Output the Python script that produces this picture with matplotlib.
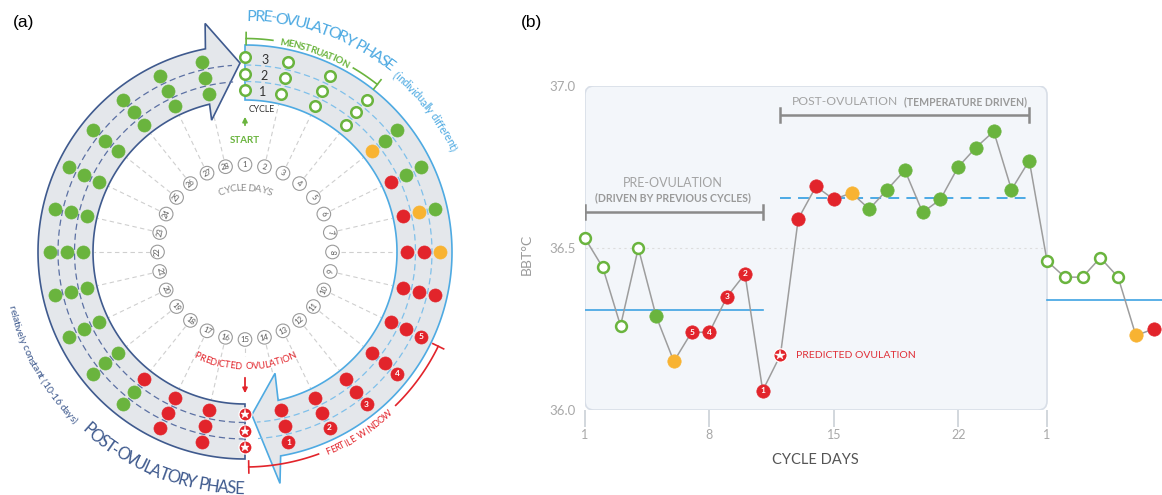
import numpy as np
import matplotlib
matplotlib.use('Agg')
import matplotlib.pyplot as plt
from matplotlib import font_manager
from matplotlib.patches import Polygon, Circle, FancyBboxPatch

plt.rcParams['font.family'] = ['Lato', 'DejaVu Sans']

# ---------------- data ----------------
# panel (a): marker kind for cycle days 1..28, one list per cycle
# o = open (menstruation), g = green, y = yellow, r = red, s = predicted ovulation, digit = numbered fertile day
cycle1 = ['o'] * 4 + ['y'] + ['r'] * 9 + ['s'] + ['r'] * 3 + ['g'] * 10
cycle2 = ['o'] * 4 + ['g', 'g', 'y'] + ['r'] * 7 + ['s'] + ['r'] * 2 + ['g'] * 11
cycle3 = ['o'] * 4 + ['g', 'g', 'g', 'y', 'r', '5', '4', '3', '2', '1', 's', 'r', 'r'] + ['g'] * 11
n_days = 28

# panel (b): basal body temperature
bbt_days = list(range(1, 27))
bbt = [36.53, 36.44, 36.26, 36.50, 36.29, 36.15, 36.24, 36.24, 36.35, 36.42, 36.06, 36.17, 36.59,
       36.69, 36.65, 36.67, 36.62, 36.68, 36.74, 36.61, 36.65, 36.75, 36.81, 36.86, 36.68, 36.77]
bbt_kind = ['o', 'o', 'o', 'o', 'g', 'y', '5', '4', '3', '2', '1', 's', 'r', 'r', 'r', 'y'] + ['g'] * 10
next_days = list(range(27, 34))
next_bbt = [36.46, 36.41, 36.41, 36.47, 36.41, 36.23, 36.25]
next_kind = ['o'] * 5 + ['y', 'r']

pre_level = 36.31      # days 1-11
post_level = 36.655    # days 12-26
next_level = 36.34     # next cycle
xtick_pos = [1, 8, 15, 22, 27]
xtick_lab = ['1', '8', '15', '22', '1']
ytick_pos = [36.0, 36.5, 37.0]

GREEN = '#6ab43e'
RED = '#e2242b'
YELLOW = '#f8b332'
NAVY = '#3f5a8e'
LBLUE = '#4eaae2'


def put_marker(ax, x, y, kind, ms=9.4, z=6):
    kw = dict(zorder=z, clip_on=False, ls='none', marker='o')
    if kind == 'o':
        ax.plot(x, y, ms=ms - 1.8, mfc='white', mec=GREEN, mew=1.8, **kw)
    elif kind == 'g':
        ax.plot(x, y, ms=ms, mfc=GREEN, mec=GREEN, mew=0.5, **kw)
    elif kind == 'y':
        ax.plot(x, y, ms=ms, mfc=YELLOW, mec=YELLOW, mew=0.5, **kw)
    elif kind == 's':
        ax.plot(x, y, ms=ms, mfc=RED, mec='white', mew=0.9, **kw)
        ax.plot(x, y, marker='*', ms=ms * 0.72, mfc='white', mec='white', mew=0.3,
                ls='none', zorder=z + 1, clip_on=False)
    else:
        ax.plot(x, y, ms=ms, mfc=RED, mec=RED, mew=0.5, **kw)
        if kind.isdigit():
            ax.text(x, y, kind, color='white', fontsize=6, fontweight='bold',
                    ha='center', va='center', zorder=z + 1, clip_on=False)


fig = plt.figure(figsize=(11.62, 4.95), dpi=100)

# ================= panel (a) : cycle wheel, 1 unit = 1 pixel =================
axa = fig.add_axes([0, 0, 490 / 1162, 1])
axa.set_xlim(0, 490)
axa.set_ylim(495, 0)
axa.axis('off')

CX, CY = 245.0, 252.0
R_DAY = 87.5
R_ROWS = [162.0, 178.5, 195.0]
R_IN, R_OUT = 152.0, 207.0


def polar(r, th):
    t = np.radians(th)
    return CX + r * np.sin(t), CY - r * np.cos(t)


def band(th0, head):
    # head = (base_in, tip, base_out), each (r, theta)
    (ri, ti), tip, (ro, to) = head
    th_out = ti + (R_OUT - ri) / (ro - ri) * (to - ti)
    th_in = ti + (R_IN - ri) / (ro - ri) * (to - ti)
    t = np.linspace(th0, th_out, 150)
    pts = list(zip(*polar(R_OUT, t)))
    pts += [polar(ro, to), polar(*tip), polar(ri, ti)]
    t = np.linspace(th_in, th0, 150)
    pts += list(zip(*polar(R_IN, t)))
    return pts


def arc_line(ax, r, t1, t2, **kw):
    t = np.linspace(t1, t2, 80)
    x, y = polar(r, t)
    ax.plot(x, y, **kw)


def advances(s, weight):
    fp = font_manager.FontProperties(family='Lato', weight=weight)
    font = font_manager.get_font(font_manager.findfont(fp))
    font.set_size(10, 100)
    out = []
    for ch in s:
        g = font.load_char(ord(ch))
        out.append(g.linearHoriAdvance / 65536.0)
    return np.array(out)


def arc_text(ax, s, r, t1, t2, color, side='top', k=1.0, weight='normal'):
    base = advances(s, weight)           # px at 10 pt
    arc = np.radians(abs(t2 - t1)) * r
    size = 10 * arc / base.sum() * k
    adv = base * size / 10
    pos = (np.cumsum(adv) - adv / 2) * (arc / adv.sum())
    sgn = 1 if t2 > t1 else -1
    cap = 0.72 * size * 100 / 72
    rb = r - cap / 2 if side == 'top' else r + cap / 2
    for ch, p in zip(s, pos):
        if ch == ' ':
            continue
        th = t1 + sgn * np.degrees(p / r)
        x, y = polar(rb, th)
        rot = -th if side == 'top' else 180 - th
        ax.text(x, y, ch, fontsize=size, color=color, fontweight=weight, rotation=rot,
                rotation_mode='anchor', ha='center', va='baseline', zorder=8)


# radial guide lines from day numbers to the band
for d in range(2, n_days + 1):
    th = (d - 1) * 360 / n_days
    r2 = 104 if d == 15 else 151
    x, y = polar(np.array([R_DAY + 8, r2]), th)
    axa.plot(x, y, color='#cfcfcf', lw=0.8, ls=(0, (4, 3)), zorder=1)

# bands with arrow heads
left = Polygon(band(180, [(136, 345.8), (189, 358.5), (232, 350.1)]), closed=True,
               fc='#e4e7eb', ec=NAVY, lw=1.2, zorder=2)
right = Polygon(band(0, [(125, 166.1), (163, 177.6), (234, 171.4)]), closed=True,
                fc='#e4e7eb', ec=LBLUE, lw=1.2, zorder=3)
axa.add_patch(left)
axa.add_patch(right)
for r in (170.5, 187.0):
    arc_line(axa, r, 180, 356, color='#5b70a3', lw=0.9, ls=(0, (5, 3)), zorder=2.5)
    arc_line(axa, r, 0, 176, color='#7fc0ea', lw=0.9, ls=(0, (5, 3)), zorder=3.5)

# dots, one ring per cycle
for kinds, r in zip([cycle1, cycle2, cycle3], R_ROWS):
    for d, kind in enumerate(kinds, start=1):
        x, y = polar(r, (d - 1) * 360 / n_days)
        put_marker(axa, x, y, kind)

# day number ring
for d in range(1, n_days + 1):
    th = (d - 1) * 360 / n_days
    x, y = polar(R_DAY, th)
    axa.add_patch(Circle((x, y), 6.8, fc='white', ec='#9a9a9a', lw=0.8, zorder=4))
    rot = -th if (th <= 90 or th >= 270) else 180 - th
    axa.text(x, y, str(d), fontsize=5.5, color='#555555', rotation=rot,
             rotation_mode='anchor', ha='center', va='center', zorder=5)

# curved labels
arc_text(axa, 'CYCLE DAYS', 65, -24, 24, '#8f8f8f', 'top', k=1.1)
arc_text(axa, 'PRE-OVULATORY PHASE', 237, 0.5, 38.7, LBLUE, 'top', k=1.18)
arc_text(axa, '(individually different)', 233, 40, 64, LBLUE, 'top', k=1.08)
arc_text(axa, 'MENSTRUATION', 213.5, 9.4, 28.8, GREEN, 'top', k=1.08, weight='bold')
arc_text(axa, 'POST-OVULATORY PHASE', 236, 222.5, 180.5, NAVY, 'bottom', k=1.18)
arc_text(axa, 'relatively constant (10-16 days)', 239, 257, 225, NAVY, 'bottom', k=1.08)
arc_text(axa, 'FERTILE  WINDOW', 216, 158, 137.5, RED, 'bottom', k=1.05)
arc_text(axa, 'PREDICTED  OVULATION', 114, 206, 154, RED, 'bottom', k=1.07)

# brackets
arc_line(axa, 213.5, 0.3, 7.5, color=GREEN, lw=1.2, zorder=8)
arc_line(axa, 213.5, 30.5, 38.3, color=GREEN, lw=1.2, zorder=8)
for th in (0.3, 38.3):
    x, y = polar(np.array([207.5, 219.5]), th)
    axa.plot(x, y, color=GREEN, lw=1.2, zorder=8)
arc_line(axa, 215, 179, 160, color=RED, lw=1.2, zorder=8)
arc_line(axa, 215, 135.5, 116, color=RED, lw=1.2, zorder=8)
for th in (179, 116):
    x, y = polar(np.array([209, 221]), th)
    axa.plot(x, y, color=RED, lw=1.2, zorder=8)

# start / ovulation markers
axa.annotate('', xy=polar(138, 0), xytext=polar(124, 0),
             arrowprops=dict(arrowstyle='-|>', color=GREEN, lw=1.3, mutation_scale=7))
axa.text(*polar(111.5, 0), 'START', fontsize=7, fontweight='bold', color=GREEN,
         ha='center', va='center')
axa.text(262, 109, 'CYCLE', fontsize=6.3, color='#333333', ha='center', va='center')
for lab, (x, y) in zip(['3', '2', '1'], [(265, 60), (264, 76.5), (263, 92)]):
    axa.text(x, y, lab, fontsize=9, color='#333333', ha='center', va='center', zorder=8)
axa.annotate('', xy=polar(144, 180), xytext=polar(123, 180),
             arrowprops=dict(arrowstyle='-|>', color=RED, lw=1.3, mutation_scale=7))

# ================= panel (b) : BBT chart =================
px_day = 17.77
axb = fig.add_axes([585 / 1162, 85 / 495, 577 / 1162, 324 / 495])
axb.set_xlim(1, 1 + 577 / px_day)
axb.set_ylim(36.0, 37.0)
for sp in axb.spines.values():
    sp.set_visible(False)
axb.patch.set_alpha(0)

box = FancyBboxPatch((1, 36.0), 26, 1.0, boxstyle='round,pad=0,rounding_size=0.5',
                     mutation_aspect=px_day / 324, fc='#f3f6fa', ec='#d8dee7', lw=1.2, zorder=0)
axb.add_patch(box)
axb.plot([1, 27], [36.5, 36.5], color='#dddddd', lw=0.8, ls=(0, (2, 3)), zorder=1)

axb.plot([1, 11], [pre_level] * 2, color='#3ea3e3', lw=1.2, zorder=2)
axb.plot([12, 26], [post_level] * 2, color='#3ea3e3', lw=1.3, ls=(0, (6, 4)), zorder=2)
axb.plot([27, 34], [next_level] * 2, color='#3ea3e3', lw=1.2, zorder=2, clip_on=False)

all_days = bbt_days + next_days
all_bbt = bbt + next_bbt
axb.plot(all_days, all_bbt, color='#9d9d9d', lw=1.1, zorder=3, clip_on=False)
for x, y, k in zip(all_days, all_bbt, bbt_kind + next_kind):
    put_marker(axb, x, y, k, ms=9.6)

# phase brackets
gray = '#8a8a8a'
for x1, x2, yb in [(1, 11, 36.61), (12, 26, 36.91)]:
    axb.plot([x1, x2], [yb, yb], color=gray, lw=1.8, zorder=2, solid_capstyle='butt')
    for xx in (x1, x2):
        axb.plot([xx, xx], [yb - 0.022, yb + 0.022], color=gray, lw=1.8, zorder=2)
axb.text(5.95, 36.70, 'PRE-OVULATION', fontsize=9, color='#a3a3a3', ha='center', va='center')
axb.text(5.95, 36.655, '(DRIVEN BY PREVIOUS CYCLES)', fontsize=7.6, fontweight='bold',
         color='#9a9a9a', ha='center', va='center')
axb.text(12.65, 36.952, 'POST-OVULATION', fontsize=8.7, color='#a3a3a3', ha='left', va='center')
axb.text(18.95, 36.952, '(TEMPERATURE DRIVEN)', fontsize=7.6, fontweight='bold',
         color='#9a9a9a', ha='left', va='center')
axb.text(12.85, 36.168, 'PREDICTED OVULATION', fontsize=7.5, color='#e03038',
         ha='left', va='center')

axb.set_xticks(xtick_pos)
axb.set_xticklabels(xtick_lab)
axb.set_yticks(ytick_pos)
axb.set_yticklabels(['36.0', '36.5', '37.0'])
axb.tick_params(axis='x', length=12, width=1.3, color='#cfd4da', pad=2, labelsize=9,
                labelcolor='#a8a8a8')
axb.tick_params(axis='y', length=0, pad=7, labelsize=9.5, labelcolor='#a8a8a8')

fig.text(527 / 1162, 1 - 254 / 495, 'BBT°C', rotation=90, fontsize=10, color='#9a9a9a',
         ha='center', va='center')
fig.text(815 / 1162, 1 - 460 / 495, 'CYCLE DAYS', fontsize=10.5, color='#555555',
         ha='center', va='center')

fig.text(24 / 1162, 1 - 22 / 495, '(a)', fontsize=12.5, family='Liberation Sans',
         ha='center', va='center')
fig.text(532 / 1162, 1 - 22 / 495, '(b)', fontsize=12.5, family='Liberation Sans',
         ha='center', va='center')

fig.savefig('out.png', dpi=100)
